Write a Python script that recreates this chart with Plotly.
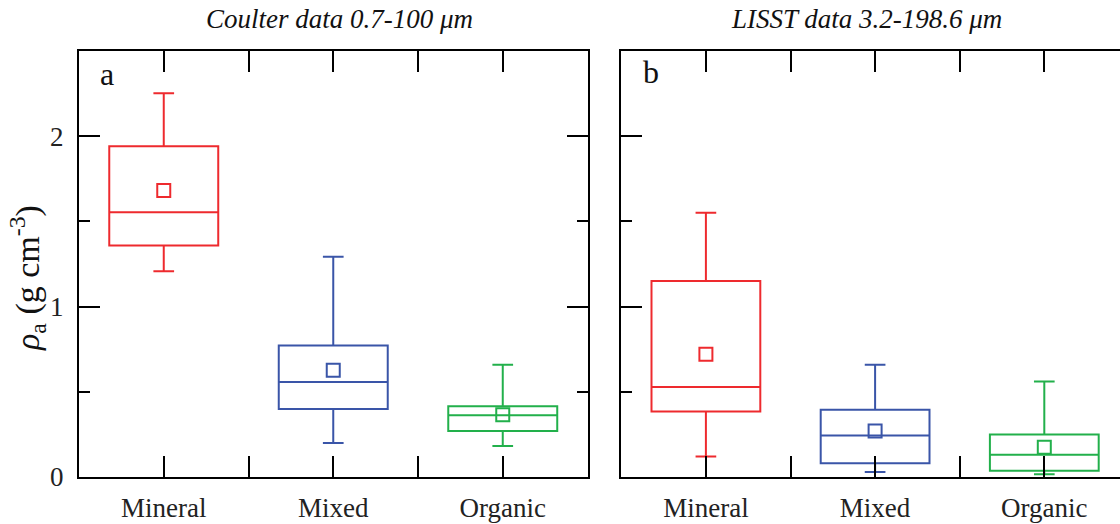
import plotly.graph_objects as go

categories = ["Mineral", "Mixed", "Organic"]
colors = ["#ee2a2e", "#3a55a8", "#22b04b"]

# Panel a: Coulter data
a_upper = [2.252, 1.293, 0.659]
a_q3 = [1.941, 0.772, 0.415]
a_median = [1.553, 0.557, 0.362]
a_q1 = [1.359, 0.399, 0.270]
a_lower = [1.208, 0.199, 0.182]
a_mean = [1.681, 0.626, 0.366]

# Panel b: LISST data
b_upper = [1.551, 0.659, 0.560]
b_q3 = [1.150, 0.395, 0.249]
b_median = [0.528, 0.243, 0.131]
b_q1 = [0.385, 0.080, 0.037]
b_lower = [0.120, 0.029, 0.016]
b_mean = [0.721, 0.270, 0.174]

y_ticks = [0, 1, 2]

FONT = "Liberation Serif"
W, H = 1120, 524
ML, MR, MT, MB = 79, 0, 51, 47
PW = W - ML - MR
PH = H - MT - MB

def px_x(p):
    return (p - ML) / PW

def px_y(p):
    return (H - MB - p) / PH

fig = go.Figure()

panels = [
    ("x", "y", a_upper, a_q3, a_median, a_q1, a_lower, a_mean),
    ("x2", "y2", b_upper, b_q3, b_median, b_q1, b_lower, b_mean),
]
for xa, ya, up, q3, med, q1, lo, mn in panels:
    for i, cat in enumerate(categories):
        pos = i + 1
        fig.add_trace(go.Box(
            x=[pos], q1=[q1[i]], median=[med[i]], q3=[q3[i]],
            lowerfence=[lo[i]], upperfence=[up[i]],
            width=0.643, whiskerwidth=0.19,
            line=dict(color=colors[i], width=2),
            fillcolor="rgba(0,0,0,0)", boxpoints=False,
            xaxis=xa, yaxis=ya, showlegend=False, name=cat,
        ))
        fig.add_trace(go.Scatter(
            x=[pos], y=[mn[i]], mode="markers",
            marker=dict(symbol="square-open", size=13, color=colors[i],
                        line=dict(width=2, color=colors[i])),
            xaxis=xa, yaxis=ya, showlegend=False,
        ))

xt_vals = [i + 1 for i in range(len(categories))]
xcommon = dict(tickmode="array", tickvals=xt_vals, ticktext=categories,
               ticks="inside", ticklen=21, tickwidth=2, tickcolor="black",
               minor=dict(tickmode="array", tickvals=[1.5, 2.5], ticks="inside",
                          ticklen=21, tickwidth=2, tickcolor="black", showgrid=False),
               showline=True, linewidth=2, linecolor="black", mirror="ticks",
               showgrid=False, zeroline=False,
               tickfont=dict(family=FONT, size=27, color="#222"),
               ticklabelstandoff=6)

a_dom_end = px_x(ML + 508.5)
b_dom_start = px_x(621.3)
b_range_end = 0.5 + (W - 621.3) / 169.2

fig.update_layout(
    width=W, height=H,
    margin=dict(l=ML, r=MR, t=MT, b=MB),
    plot_bgcolor="white", paper_bgcolor="white",
    xaxis=dict(domain=[0, a_dom_end], range=[0.5, 3.5], anchor="y", **xcommon),
    xaxis2=dict(domain=[b_dom_start, 1.0], range=[0.5, b_range_end], anchor="y2", **xcommon),
    yaxis=dict(range=[0, 2.5], tickmode="array", tickvals=y_ticks,
               ticks="inside", ticklen=21, tickwidth=2, tickcolor="black",
               minor=dict(dtick=0.5, tick0=0, ticks="inside", ticklen=11, tickwidth=2, tickcolor="black"),
               showline=True, linewidth=2, linecolor="black", mirror="ticks",
               showgrid=False, zeroline=False, anchor="x",
               tickfont=dict(family=FONT, size=27, color="#222"),
               ticklabelstandoff=8),
    yaxis2=dict(range=[0, 2.5], tickmode="array", tickvals=y_ticks,
                ticks="inside", ticklen=21, tickwidth=2, tickcolor="black",
                minor=dict(dtick=0.5, tick0=0, ticks="inside", ticklen=11, tickwidth=2, tickcolor="black"),
                showline=True, linewidth=2, linecolor="black", mirror=False,
                showgrid=False, zeroline=False, showticklabels=False, anchor="x2"),
    yaxis3=dict(range=[0, 2.5], tickmode="array", tickvals=y_ticks, overlaying="y2",
                side="right", anchor="x2",
                ticks="inside", ticklen=14, tickwidth=2, tickcolor="black",
                minor=dict(dtick=0.5, tick0=0, ticks="inside", ticklen=3, tickwidth=2, tickcolor="black"),
                showline=False, showgrid=False, zeroline=False, showticklabels=False),
)

annots = [
    dict(text="<i>Coulter data 0.7-100 μm</i>", x=px_x(339), y=px_y(19), size=27),
    dict(text="<i>LISST data 3.2-198.6 μm</i>", x=px_x(866), y=px_y(19), size=27),
    dict(text="a", x=px_x(106.5), y=px_y(74), size=32),
    dict(text="b", x=px_x(650.5), y=px_y(72), size=32),
]
for a in annots:
    fig.add_annotation(text=a["text"], x=a["x"], y=a["y"], xref="paper", yref="paper",
                       xanchor="center", yanchor="middle", showarrow=False,
                       font=dict(family=FONT, size=a["size"], color="#111"))

fig.add_annotation(text="<i>ρ</i><sub>a</sub> (g cm<sup>-3</sup>)", textangle=-90,
                   x=px_x(27), y=px_y(278), xref="paper", yref="paper",
                   xanchor="center", yanchor="middle", showarrow=False,
                   font=dict(family=FONT, size=34, color="#111"))

fig.write_html("out.html", config={"displayModeBar": False},
               post_script="document.body.style.margin='0px';document.body.style.overflow='hidden';")
